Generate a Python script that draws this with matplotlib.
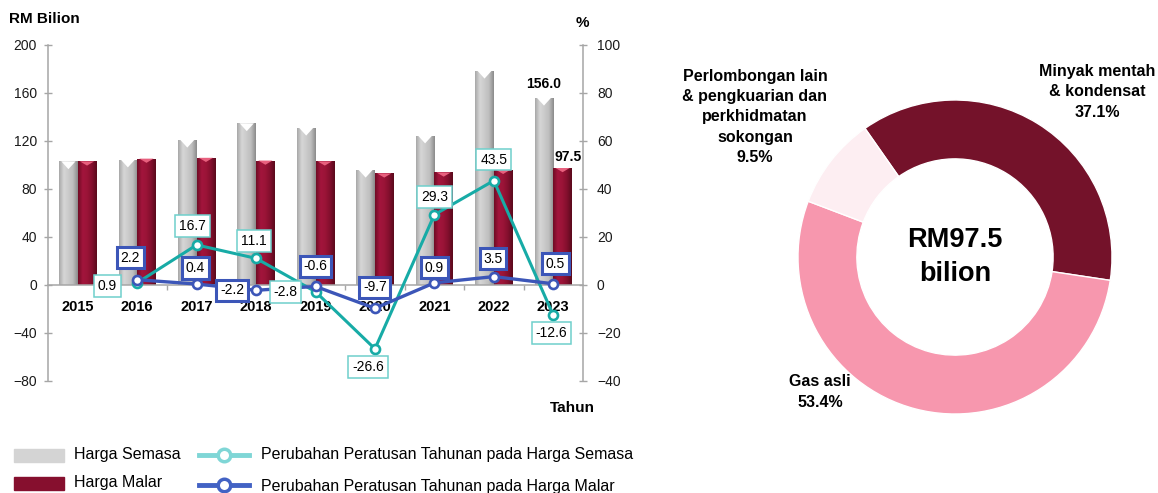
import numpy as np
import matplotlib.pyplot as plt
from matplotlib.colors import LinearSegmentedColormap
from matplotlib.patches import Polygon, Rectangle

plt.rcParams['font.family'] = ['Liberation Sans', 'DejaVu Sans']

# data
tahun = ['2015', '2016', '2017', '2018', '2019', '2020', '2021', '2022', '2023']
harga_semasa = [103.0, 104.5, 121.0, 134.7, 131.0, 96.0, 124.5, 178.5, 156.0]
harga_malar = [103.0, 105.3, 106.0, 103.7, 103.0, 93.0, 93.8, 96.0, 97.5]

tahun_ppt = ['2016', '2017', '2018', '2019', '2020', '2021', '2022', '2023']
ppt_semasa = [0.9, 16.7, 11.1, -2.8, -26.6, 29.3, 43.5, -12.6]
ppt_malar = [2.2, 0.4, -2.2, -0.6, -9.7, 0.9, 3.5, 0.5]

komponen = ['Minyak mentah\n& kondensat', 'Gas asli',
            'Perlombongan lain\n& pengkuarian dan\nperkhidmatan\nsokongan']
peratus = [37.1, 53.4, 9.5]
jumlah = 97.5

# colours
c_grey = '#d4d4d4'
c_maroon = '#860f2e'
c_teal = '#17aba6'
c_teal_box = '#6fd0cc'
c_blue = '#3c56b8'
c_axis = '#a6a6a6'

fig = plt.figure(figsize=(11.58, 4.93), dpi=100)

# ---------------- kiri: bar + garis ----------------
ax = fig.add_axes([48/1158, 112/493, 535/1158, 336/493])
ax2 = ax.twinx()

x = np.arange(len(tahun))
w = 0.313

cm_grey = LinearSegmentedColormap.from_list('g', ['#a8a8a8', '#d6d6d6', '#cbcbcb', '#bdbdbd', '#8c8c8c'])
cm_mar = LinearSegmentedColormap.from_list('m', ['#700c25', '#a3153c', '#9a1437', '#820f2d', '#5a0a1c'])
grad = np.linspace(0, 1, 64).reshape(1, -1)

def gradient_bars(bars, cmap, tri_col, tri_h):
    for b in bars:
        x0, y0 = b.get_x(), b.get_y()
        bw, bh = b.get_width(), b.get_height()
        im = ax.imshow(grad, extent=[x0, x0 + bw, y0, y0 + bh], aspect='auto',
                       cmap=cmap, zorder=2)
        im.set_clip_path(b)
        top = y0 + bh
        ax.add_patch(Polygon([[x0 + 0.12*bw, top], [x0 + 0.88*bw, top],
                              [x0 + 0.5*bw, top - tri_h]],
                             closed=True, color=tri_col, zorder=3, lw=0))

b1 = ax.bar(x - w/2, harga_semasa, w, color=c_grey, zorder=1)
b2 = ax.bar(x + w/2, harga_malar, w, color=c_maroon, zorder=1)
gradient_bars(b1, cm_grey, 'white', 6.5)
gradient_bars(b2, cm_mar, '#e8607e', 3.5)

ax.set_xlim(-0.5, 8.5)
ax.set_ylim(-80, 200)
ax.set_yticks(np.arange(-80, 201, 40))
ax.set_xticks(np.arange(0.5, 8, 1))
ax.set_xticklabels([])

for s in ['top', 'right']:
    ax.spines[s].set_visible(False)
ax.spines['bottom'].set_position(('data', 0))
ax.spines['bottom'].set_color(c_axis)
ax.spines['left'].set_color(c_axis)
ax.spines['bottom'].set_linewidth(1.1)
ax.spines['left'].set_linewidth(1.1)
ax.tick_params(axis='y', direction='inout', length=6, width=1, color=c_axis,
               labelsize=10, pad=5, labelcolor='#1a1a1a')
ax.tick_params(axis='x', direction='out', length=3.5, width=1, color=c_axis)

for i, t in enumerate(tahun):
    ax.annotate(t, (i, 0), xytext=(0, -22), textcoords='offset pixels',
                ha='center', va='center', fontsize=10.5, fontweight='bold', zorder=6)

# label nilai 2023
ax.annotate(f'{harga_semasa[-1]:.1f}', (x[-1] - w/2, harga_semasa[-1]), xytext=(0, 14),
            textcoords='offset pixels', ha='center', va='center', fontsize=10, fontweight='bold')
ax.annotate(f'{harga_malar[-1]:.1f}', (x[-1] + w/2, harga_malar[-1]), xytext=(6, 11),
            textcoords='offset pixels', ha='center', va='center', fontsize=10, fontweight='bold')

# garis peratus
xp = [tahun.index(t) for t in tahun_ppt]
ax2.plot(xp, ppt_semasa, color=c_teal, lw=2.2, marker='o', ms=6.5, mfc='white',
         mec=c_teal, mew=1.9, zorder=3)
ax2.plot(xp, ppt_malar, color=c_blue, lw=2.4, marker='o', ms=6.5, mfc='white',
         mec=c_blue, mew=1.9, zorder=4)
ax2.set_ylim(-40, 100)
ax2.set_yticks(np.arange(-40, 101, 20))
for s in ['top', 'left', 'bottom']:
    ax2.spines[s].set_visible(False)
ax2.spines['right'].set_color(c_axis)
ax2.spines['right'].set_linewidth(1.1)
ax2.tick_params(axis='y', direction='inout', length=6, width=1, color=c_axis,
                labelsize=10, pad=7, labelcolor='#1a1a1a')

off_semasa = [(-30, -3), (-4, 19), (-2, 17), (-30, 0), (-7, -18), (0, 18), (0, 21), (-2, -18)]
off_malar = [(-7, 22), (-1, 16), (-24, 0), (0, 20), (0, 21), (0, 15), (-1, 18), (2, 20)]

for xi, v, o in zip(xp, ppt_semasa, off_semasa):
    ax2.annotate(f'{v:.1f}', (xi, v), xytext=o, textcoords='offset pixels',
                 ha='center', va='center', fontsize=10, zorder=7,
                 bbox=dict(boxstyle='square,pad=0.28', fc='white', ec=c_teal_box, lw=1.1))
for xi, v, o in zip(xp, ppt_malar, off_malar):
    ax2.annotate(f'{v:.1f}', (xi, v), xytext=o, textcoords='offset pixels',
                 ha='center', va='center', fontsize=10, zorder=8,
                 bbox=dict(boxstyle='square,pad=0.26', fc='white', ec=c_blue, lw=2.2))

# ---------------- kanan: donut ----------------
axd = fig.add_axes([(955 - 157)/1158, (493 - 257 - 157)/493, 314/1158, 314/493])
axd.pie(peratus, radius=1, startangle=125, counterclock=False,
        colors=['#74122a', '#f797ae', '#fdeef2'],
        wedgeprops=dict(width=0.375, edgecolor='white', linewidth=1))
axd.set_xlim(-1, 1)
axd.set_ylim(-1, 1)
axd.text(0, 0, f'RM{jumlah}\nbilion', ha='center', va='center', fontsize=19.5,
         fontweight='bold', linespacing=1.4)

# ---------------- teks & legenda ----------------
lay = fig.add_axes([0, 0, 1, 1])
lay.set_xlim(0, 1158)
lay.set_ylim(493, 0)
lay.axis('off')

lay.text(9, 19, 'RM Bilion', ha='left', va='center', fontsize=11, fontweight='bold')
lay.text(582, 23, '%', ha='center', va='center', fontsize=11, fontweight='bold')
lay.text(572, 408, 'Tahun', ha='center', va='center', fontsize=11, fontweight='bold')

pos_lbl = [(1097, 92), (820, 392), (755, 117)]
for (px, py), k, p in zip(pos_lbl, komponen, peratus):
    lay.text(px, py, f'{k}\n{p:.1f}%', ha='center', va='center', fontsize=11.5,
             fontweight='bold', linespacing=1.45)

lay.add_patch(Rectangle((14, 449), 50, 13, color=c_grey))
lay.add_patch(Rectangle((14, 477), 50, 13, color=c_maroon))
lay.text(74, 455, 'Harga Semasa', va='center', fontsize=11.5)
lay.text(74, 483, 'Harga Malar', va='center', fontsize=11.5)

lay.plot([199, 249], [455, 455], color='#7fd6d6', lw=3.5)
lay.plot([224], [455], 'o', ms=9, mfc='white', mec='#7fd6d6', mew=2.5)
lay.plot([199, 249], [485, 485], color='#4262c4', lw=3.5)
lay.plot([224], [485], 'o', ms=9, mfc='white', mec='#4262c4', mew=2.5)
lay.text(261, 455, 'Perubahan Peratusan Tahunan pada Harga Semasa', va='center', fontsize=11.5)
lay.text(261, 486, 'Perubahan Peratusan Tahunan pada Harga Malar', va='center', fontsize=11.5)

fig.savefig('out.png', dpi=100)
